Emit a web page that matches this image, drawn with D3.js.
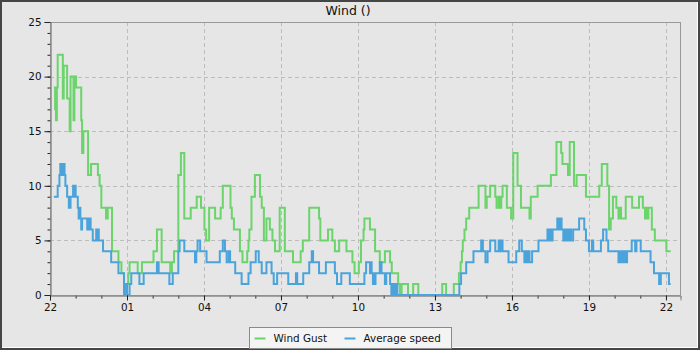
<!DOCTYPE html>
<html>
<head>
<meta charset="utf-8">
<script src="https://cdn.jsdelivr.net/npm/d3@7"></script>
<style>
body { margin: 0; background: #454545; }
svg { display: block; font-family: "DejaVu Sans", sans-serif; }
</style>
</head>
<body>
<svg id="chart" width="700" height="350"></svg>
<script>
// [minutes after 22:00, speed] - value holds until the next entry (step after)
const gustSeries = [[9,19],[12,17],[14,16],[16,19],[18,22],[30,18],[32,21],[40,18],[46,15],[48,20],[55,16],[57,20],[61,19],[73,16],[75,13],[78,15],[89,11],[96,12],[112,11],[116,10],[120,8],[131,7],[135,8],[145,4],[160,3],[167,2],[173,1],[176,0],[180,1],[183,2],[186,3],[205,2],[215,3],[242,4],[250,6],[261,3],[281,2],[285,3],[290,4],[300,11],[306,13],[314,7],[329,8],[343,9],[353,8],[361,6],[365,5],[372,8],[386,7],[399,8],[404,10],[422,8],[425,7],[430,6],[444,4],[450,3],[461,4],[464,5],[466,6],[471,9],[479,11],[491,9],[495,8],[500,5],[506,7],[514,6],[520,5],[526,4],[537,8],[549,4],[568,3],[586,4],[591,5],[606,8],[629,7],[632,5],[650,6],[660,5],[666,4],[676,5],[693,4],[707,3],[712,2],[722,3],[727,5],[733,6],[735,7],[748,6],[760,4],[771,3],[783,4],[795,3],[799,2],[814,1],[818,0],[822,1],[837,0],[849,1],[861,0],[917,1],[926,0],[944,1],[956,2],[960,3],[963,4],[965,5],[969,6],[973,7],[980,8],[1002,10],[1018,8],[1021,9],[1029,10],[1041,9],[1044,8],[1049,9],[1052,8],[1055,9],[1058,10],[1068,8],[1078,7],[1083,13],[1093,10],[1101,8],[1121,7],[1124,9],[1140,10],[1171,11],[1184,14],[1195,13],[1198,12],[1211,11],[1215,14],[1225,10],[1231,11],[1253,9],[1284,10],[1290,12],[1303,10],[1307,6],[1311,7],[1316,9],[1324,8],[1329,7],[1332,8],[1335,7],[1346,9],[1361,8],[1377,9],[1386,8],[1391,7],[1394,8],[1397,7],[1399,8],[1407,6],[1414,5],[1441,4],[1451,4]];

const avgSeries = [[9,9],[18,10],[22,11],[24,12],[26,11],[28,12],[30,11],[32,12],[34,11],[36,10],[40,9],[44,8],[46,9],[47,8],[48,9],[54,10],[56,9],[58,10],[60,9],[65,8],[67,7],[69,8],[71,7],[73,6],[75,7],[87,6],[89,7],[91,6],[93,7],[95,6],[100,5],[108,6],[110,5],[112,6],[114,5],[124,4],[143,3],[160,2],[173,0],[178,1],[180,0],[186,1],[190,2],[209,1],[219,2],[250,3],[254,2],[279,1],[287,2],[300,4],[303,5],[314,4],[339,3],[342,4],[345,5],[351,4],[366,3],[397,4],[404,5],[409,4],[413,3],[418,4],[421,3],[433,2],[448,1],[464,2],[469,3],[481,4],[488,3],[495,2],[506,3],[518,2],[523,1],[531,2],[557,1],[575,2],[578,1],[592,2],[606,3],[612,4],[615,3],[629,2],[645,3],[666,2],[671,1],[681,2],[701,1],[735,2],[739,3],[748,2],[750,3],[752,2],[755,1],[757,2],[759,1],[761,2],[771,3],[775,2],[783,1],[786,2],[795,1],[798,0],[802,1],[804,0],[806,1],[808,0],[810,1],[812,0],[957,1],[961,2],[973,3],[990,4],[1008,5],[1012,4],[1018,3],[1023,4],[1029,5],[1041,4],[1049,5],[1052,4],[1055,5],[1058,4],[1072,3],[1090,4],[1097,5],[1103,4],[1109,3],[1112,4],[1115,3],[1118,4],[1121,3],[1127,4],[1142,5],[1163,6],[1166,5],[1169,6],[1172,5],[1175,6],[1186,7],[1190,6],[1193,7],[1196,6],[1200,5],[1203,6],[1206,5],[1209,6],[1212,5],[1215,6],[1218,5],[1223,6],[1237,7],[1249,6],[1253,5],[1260,4],[1267,5],[1270,4],[1288,5],[1293,6],[1301,5],[1305,4],[1329,3],[1333,4],[1337,3],[1341,4],[1345,3],[1349,4],[1360,5],[1368,4],[1371,5],[1381,4],[1404,3],[1412,2],[1424,1],[1428,2],[1447,1],[1451,1]];

// Axis ticks
const hourLabels = ["22", "01", "04", "07", "10", "13", "16", "19", "22"];
const yLabels = [0, 5, 10, 15, 20, 25];

const seriesNames = ["Wind Gust", "Average speed"];
const seriesColors = ["#6bd46b", "#4aa4db"];

// Plot area
const plotLeft = 50, plotRight = 680.5, plotTop = 22, plotBottom = 295;

const svg = d3.select("#chart");

// Outer frame
svg.append("rect").attr("x", 0).attr("y", 0).attr("width", 700).attr("height", 350).attr("fill", "#454545");
svg.append("rect").attr("x", 2).attr("y", 2).attr("width", 696).attr("height", 346).attr("fill", "#ffffff");
svg.append("rect").attr("x", 2).attr("y", 2).attr("width", 695).attr("height", 345).attr("fill", "#e6e6e6");

// Scales
const x = d3.scaleLinear().domain([0, 1474]).range([plotLeft, plotRight]);
const y = d3.scaleLinear().domain([0, 25]).range([plotBottom, plotTop]);

const majorMinutes = hourLabels.map((d, i) => i * 180);
const minorMinutes = d3.range(0, 1474, 60);
const minorY = d3.range(0, 26, 1);

// Grid lines
const grid = svg.append("g").attr("stroke", "#bcbcbc").attr("stroke-dasharray", "4,3").attr("stroke-width", 1);
grid.selectAll(".vg")
    .data(majorMinutes.slice(1))
    .join("line")
    .attr("x1", d => Math.round(x(d)) + 0.5).attr("x2", d => Math.round(x(d)) + 0.5)
    .attr("y1", plotTop).attr("y2", plotBottom);
grid.selectAll(".hg")
    .data(yLabels.slice(1, -1))
    .join("line")
    .attr("x1", plotLeft).attr("x2", plotRight)
    .attr("y1", d => Math.round(y(d)) + 0.5).attr("y2", d => Math.round(y(d)) + 0.5);

// Series
const line = d3.line()
    .x(d => x(d[0]))
    .y(d => y(d[1]))
    .curve(d3.curveStepAfter);

svg.append("path")
    .datum(gustSeries)
    .attr("d", line)
    .attr("fill", "none")
    .attr("stroke", seriesColors[0])
    .attr("stroke-width", 2);

svg.append("path")
    .datum(avgSeries)
    .attr("d", line)
    .attr("fill", "none")
    .attr("stroke", seriesColors[1])
    .attr("stroke-width", 2);

// Plot border
svg.append("rect")
    .attr("x", plotLeft + 0.5).attr("y", plotTop + 0.5)
    .attr("width", plotRight - plotLeft - 0.5).attr("height", plotBottom - plotTop)
    .attr("fill", "none").attr("stroke", "#999999");

// Axes
function styleAxis(g) {
    g.select(".domain").attr("stroke", "#8c8c8c");
    g.selectAll(".tick line").attr("stroke", "#222");
    g.selectAll(".tick text").attr("fill", "#111").style("font-size", "10.4px").style("font-family", "DejaVu Sans");
}

svg.append("g")
    .attr("transform", `translate(${plotLeft + 0.5},0)`)
    .call(d3.axisLeft(y).tickValues(minorY).tickSize(3).tickFormat(""))
    .call(styleAxis);
svg.append("g")
    .attr("transform", `translate(${plotLeft + 0.5},0)`)
    .call(d3.axisLeft(y).tickValues(yLabels).tickSize(6).tickPadding(3))
    .call(styleAxis);

svg.append("g")
    .attr("transform", `translate(0,${plotBottom + 0.5})`)
    .call(d3.axisBottom(x).tickValues(minorMinutes).tickSize(3).tickFormat(""))
    .call(styleAxis);
svg.append("g")
    .attr("transform", `translate(0,${plotBottom + 0.5})`)
    .call(d3.axisBottom(x).tickValues(majorMinutes).tickSize(5).tickPadding(3).tickFormat((d, i) => hourLabels[i]))
    .call(styleAxis);

// Title
svg.append("text")
    .attr("x", 348).attr("y", 15)
    .attr("text-anchor", "middle")
    .style("font-size", "12.5px")
    .attr("fill", "#111")
    .text("Wind ()");

// Legend
const legend = svg.append("g").attr("transform", "translate(249.5,327.5)");
legend.append("rect")
    .attr("width", 202).attr("height", 21)
    .attr("fill", "#f4f4f4").attr("stroke", "#8a8a8a");

const legendX = [5, 95];
const items = legend.selectAll(".legend-item")
    .data(seriesNames)
    .join("g")
    .attr("transform", (d, i) => `translate(${legendX[i]},0)`);
items.append("line")
    .attr("x1", 0).attr("x2", 11)
    .attr("y1", 11).attr("y2", 11)
    .attr("stroke", (d, i) => seriesColors[i])
    .attr("stroke-width", 2);
items.append("text")
    .attr("x", 19).attr("y", 14.5)
    .style("font-size", "10.4px")
    .attr("fill", "#111")
    .text(d => d);
</script>
</body>
</html>
